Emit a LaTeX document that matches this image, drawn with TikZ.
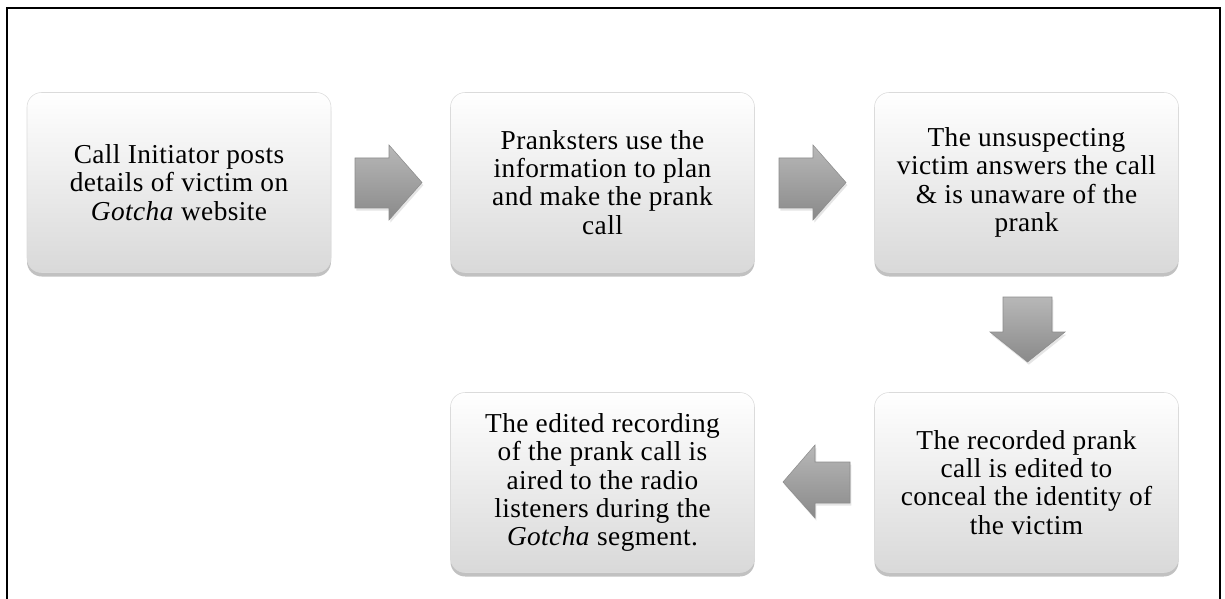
\documentclass[tikz,border=0pt]{standalone}
\usepackage{fontspec}
\setmainfont{Liberation Serif}
\newfontfamily\boxfont[LetterSpace=1.5]{Liberation Serif}
\usetikzlibrary{shadows}
\begin{document}
\begin{tikzpicture}[x=0.75pt,y=-0.75pt,
  stepbox/.style={rounded corners=11pt, minimum width=228pt, minimum height=135pt,
    inner sep=0pt, align=center, top color=white, bottom color=black!15,
    draw=black!14, line width=0.4pt,
    drop shadow={shadow xshift=0pt, shadow yshift=-3pt, opacity=0.4, fill=black!60},
    font=\boxfont\fontsize{20.5}{21.2}\selectfont},
  blockarrow/.style={top color=black!28, bottom color=black!46, draw=black!45, line width=0.4pt,
    drop shadow={shadow xshift=1pt, shadow yshift=-2pt, opacity=0.2}},
  frameline/.style={line width=1.5pt, black}]
\useasboundingbox (0,0) rectangle (1225,599);
\fill[white] (0,0) rectangle (1225,599);
\draw[frameline] (7,599) -- (7,8) -- (1220,8) -- (1220,599);

\node[stepbox] (b1) at (179,182.5) {Call Initiator posts\\details of victim on\\\textit{Gotcha} website};
\node[stepbox] (b2) at (602.5,182.5) {Pranksters use the\\information to plan\\and make the prank\\call};
\node[stepbox] (b3) at (1026.5,182.5) {The unsuspecting\\victim answers the call\\\& is unaware of the\\prank};
\node[stepbox] (b5) at (1026.5,482.5) {The recorded prank\\call is edited to\\conceal the identity of\\the victim};
\node[stepbox] (b4) at (602.5,482.5) {The edited recording\\of the prank call is\\aired to the radio\\listeners during the\\\textit{Gotcha} segment.};

% block arrows
\path[blockarrow] (355,158) -- (389,158) -- (389,145) -- (422,182.5) -- (389,220) -- (389,208) -- (355,208) -- cycle;
\path[blockarrow] (779,158) -- (813,158) -- (813,145) -- (846,182.5) -- (813,220) -- (813,208) -- (779,208) -- cycle;
\path[blockarrow] (1003,297) -- (1052,297) -- (1052,332) -- (1065,332) -- (1027.5,362) -- (990,332) -- (1003,332) -- cycle;
\path[blockarrow] (850,462) -- (815,462) -- (815,445) -- (783,482) -- (815,518) -- (815,503) -- (850,503) -- cycle;
\end{tikzpicture}
\end{document}
